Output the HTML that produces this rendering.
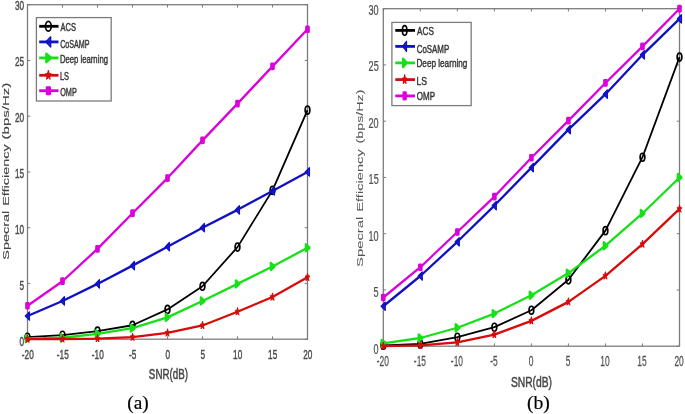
<!DOCTYPE html>
<html><head><meta charset="utf-8"><style>
html,body{margin:0;padding:0;background:#fff;}
svg{display:block;}
.bl{filter:blur(0.45px);}
</style></head><body>
<svg width="685" height="414" viewBox="0 0 685 414">
<rect width="685" height="414" fill="#fff"/>
<g class="bl">
<rect x="27.5" y="4.7" width="280.00" height="334.50" fill="none" stroke="#7c7c7c" stroke-width="1.3"/>
<line x1="27.50" y1="339.2" x2="27.50" y2="336.40" stroke="#7c7c7c" stroke-width="1"/>
<line x1="27.50" y1="4.7" x2="27.50" y2="7.50" stroke="#7c7c7c" stroke-width="1"/>
<text transform="translate(22.18,358.60) scale(0.6100,1)" x="-0.61" y="0" font-family='"Liberation Sans", sans-serif' font-size="13.5" fill="#4a4a4a" stroke="#4a4a4a" stroke-width="0.45">-20</text>
<line x1="62.50" y1="339.2" x2="62.50" y2="336.40" stroke="#7c7c7c" stroke-width="1"/>
<line x1="62.50" y1="4.7" x2="62.50" y2="7.50" stroke="#7c7c7c" stroke-width="1"/>
<text transform="translate(57.20,358.60) scale(0.6100,1)" x="-0.61" y="0" font-family='"Liberation Sans", sans-serif' font-size="13.5" fill="#4a4a4a" stroke="#4a4a4a" stroke-width="0.45">-15</text>
<line x1="97.50" y1="339.2" x2="97.50" y2="336.40" stroke="#7c7c7c" stroke-width="1"/>
<line x1="97.50" y1="4.7" x2="97.50" y2="7.50" stroke="#7c7c7c" stroke-width="1"/>
<text transform="translate(92.18,358.60) scale(0.6100,1)" x="-0.61" y="0" font-family='"Liberation Sans", sans-serif' font-size="13.5" fill="#4a4a4a" stroke="#4a4a4a" stroke-width="0.45">-10</text>
<line x1="132.50" y1="339.2" x2="132.50" y2="336.40" stroke="#7c7c7c" stroke-width="1"/>
<line x1="132.50" y1="4.7" x2="132.50" y2="7.50" stroke="#7c7c7c" stroke-width="1"/>
<text transform="translate(129.49,358.60) scale(0.6100,1)" x="-0.61" y="0" font-family='"Liberation Sans", sans-serif' font-size="13.5" fill="#4a4a4a" stroke="#4a4a4a" stroke-width="0.45">-5</text>
<line x1="167.50" y1="339.2" x2="167.50" y2="336.40" stroke="#7c7c7c" stroke-width="1"/>
<line x1="167.50" y1="4.7" x2="167.50" y2="7.50" stroke="#7c7c7c" stroke-width="1"/>
<text transform="translate(165.82,358.60) scale(0.6100,1)" x="-0.54" y="0" font-family='"Liberation Sans", sans-serif' font-size="13.5" fill="#4a4a4a" stroke="#4a4a4a" stroke-width="0.45">0</text>
<line x1="202.50" y1="339.2" x2="202.50" y2="336.40" stroke="#7c7c7c" stroke-width="1"/>
<line x1="202.50" y1="4.7" x2="202.50" y2="7.50" stroke="#7c7c7c" stroke-width="1"/>
<text transform="translate(200.84,358.60) scale(0.6100,1)" x="-0.54" y="0" font-family='"Liberation Sans", sans-serif' font-size="13.5" fill="#4a4a4a" stroke="#4a4a4a" stroke-width="0.45">5</text>
<line x1="237.50" y1="339.2" x2="237.50" y2="336.40" stroke="#7c7c7c" stroke-width="1"/>
<line x1="237.50" y1="4.7" x2="237.50" y2="7.50" stroke="#7c7c7c" stroke-width="1"/>
<text transform="translate(233.68,358.60) scale(0.6100,1)" x="-1.01" y="0" font-family='"Liberation Sans", sans-serif' font-size="13.5" fill="#4a4a4a" stroke="#4a4a4a" stroke-width="0.45">10</text>
<line x1="272.50" y1="339.2" x2="272.50" y2="336.40" stroke="#7c7c7c" stroke-width="1"/>
<line x1="272.50" y1="4.7" x2="272.50" y2="7.50" stroke="#7c7c7c" stroke-width="1"/>
<text transform="translate(268.70,358.60) scale(0.6100,1)" x="-1.01" y="0" font-family='"Liberation Sans", sans-serif' font-size="13.5" fill="#4a4a4a" stroke="#4a4a4a" stroke-width="0.45">15</text>
<line x1="307.50" y1="339.2" x2="307.50" y2="336.40" stroke="#7c7c7c" stroke-width="1"/>
<line x1="307.50" y1="4.7" x2="307.50" y2="7.50" stroke="#7c7c7c" stroke-width="1"/>
<text transform="translate(303.58,358.60) scale(0.6100,1)" x="-0.68" y="0" font-family='"Liberation Sans", sans-serif' font-size="13.5" fill="#4a4a4a" stroke="#4a4a4a" stroke-width="0.45">20</text>
<line x1="27.5" y1="339.20" x2="30.3" y2="339.20" stroke="#7c7c7c" stroke-width="1"/>
<line x1="307.5" y1="339.20" x2="304.7" y2="339.20" stroke="#7c7c7c" stroke-width="1"/>
<text transform="translate(19.85,346.33) scale(0.6100,1)" x="-0.54" y="0" font-family='"Liberation Sans", sans-serif' font-size="13.5" fill="#4a4a4a" stroke="#4a4a4a" stroke-width="0.45">0</text>
<line x1="27.5" y1="283.45" x2="30.3" y2="283.45" stroke="#7c7c7c" stroke-width="1"/>
<line x1="307.5" y1="283.45" x2="304.7" y2="283.45" stroke="#7c7c7c" stroke-width="1"/>
<text transform="translate(19.89,290.35) scale(0.6100,1)" x="-0.54" y="0" font-family='"Liberation Sans", sans-serif' font-size="13.5" fill="#4a4a4a" stroke="#4a4a4a" stroke-width="0.45">5</text>
<line x1="27.5" y1="227.70" x2="30.3" y2="227.70" stroke="#7c7c7c" stroke-width="1"/>
<line x1="307.5" y1="227.70" x2="304.7" y2="227.70" stroke="#7c7c7c" stroke-width="1"/>
<text transform="translate(15.57,234.37) scale(0.6100,1)" x="-1.01" y="0" font-family='"Liberation Sans", sans-serif' font-size="13.5" fill="#4a4a4a" stroke="#4a4a4a" stroke-width="0.45">10</text>
<line x1="27.5" y1="171.95" x2="30.3" y2="171.95" stroke="#7c7c7c" stroke-width="1"/>
<line x1="307.5" y1="171.95" x2="304.7" y2="171.95" stroke="#7c7c7c" stroke-width="1"/>
<text transform="translate(15.61,178.38) scale(0.6100,1)" x="-1.01" y="0" font-family='"Liberation Sans", sans-serif' font-size="13.5" fill="#4a4a4a" stroke="#4a4a4a" stroke-width="0.45">15</text>
<line x1="27.5" y1="116.20" x2="30.3" y2="116.20" stroke="#7c7c7c" stroke-width="1"/>
<line x1="307.5" y1="116.20" x2="304.7" y2="116.20" stroke="#7c7c7c" stroke-width="1"/>
<text transform="translate(15.36,122.40) scale(0.6100,1)" x="-0.68" y="0" font-family='"Liberation Sans", sans-serif' font-size="13.5" fill="#4a4a4a" stroke="#4a4a4a" stroke-width="0.45">20</text>
<line x1="27.5" y1="60.45" x2="30.3" y2="60.45" stroke="#7c7c7c" stroke-width="1"/>
<line x1="307.5" y1="60.45" x2="304.7" y2="60.45" stroke="#7c7c7c" stroke-width="1"/>
<text transform="translate(15.40,66.42) scale(0.6100,1)" x="-0.68" y="0" font-family='"Liberation Sans", sans-serif' font-size="13.5" fill="#4a4a4a" stroke="#4a4a4a" stroke-width="0.45">25</text>
<line x1="27.5" y1="4.70" x2="30.3" y2="4.70" stroke="#7c7c7c" stroke-width="1"/>
<line x1="307.5" y1="4.70" x2="304.7" y2="4.70" stroke="#7c7c7c" stroke-width="1"/>
<text transform="translate(15.28,10.43) scale(0.6100,1)" x="-0.54" y="0" font-family='"Liberation Sans", sans-serif' font-size="13.5" fill="#4a4a4a" stroke="#4a4a4a" stroke-width="0.45">30</text>
<polyline points="27.50,337.19 62.50,335.19 97.50,331.17 132.50,325.26 167.50,309.43 202.50,286.24 237.50,247.10 272.50,190.35 307.50,110.18" fill="none" stroke="#000000" stroke-width="1.8" stroke-linejoin="round"/>
<ellipse cx="27.50" cy="337.19" rx="2.36" ry="3.96" fill="none" stroke="#000000" stroke-width="1.7"/>
<ellipse cx="62.50" cy="335.19" rx="2.36" ry="3.96" fill="none" stroke="#000000" stroke-width="1.7"/>
<ellipse cx="97.50" cy="331.17" rx="2.36" ry="3.96" fill="none" stroke="#000000" stroke-width="1.7"/>
<ellipse cx="132.50" cy="325.26" rx="2.36" ry="3.96" fill="none" stroke="#000000" stroke-width="1.7"/>
<ellipse cx="167.50" cy="309.43" rx="2.36" ry="3.96" fill="none" stroke="#000000" stroke-width="1.7"/>
<ellipse cx="202.50" cy="286.24" rx="2.36" ry="3.96" fill="none" stroke="#000000" stroke-width="1.7"/>
<ellipse cx="237.50" cy="247.10" rx="2.36" ry="3.96" fill="none" stroke="#000000" stroke-width="1.7"/>
<ellipse cx="272.50" cy="190.35" rx="2.36" ry="3.96" fill="none" stroke="#000000" stroke-width="1.7"/>
<ellipse cx="307.50" cy="110.18" rx="2.36" ry="3.96" fill="none" stroke="#000000" stroke-width="1.7"/>
<polyline points="27.50,316.01 62.50,300.96 97.50,283.90 132.50,265.61 167.50,246.65 202.50,227.70 237.50,209.86 272.50,190.90 307.50,171.95" fill="none" stroke="#1010c4" stroke-width="2.3" stroke-linejoin="round"/>
<polygon points="25.36,316.01 29.41,311.85 29.41,320.17" fill="#1010c4" fill-opacity="0.85" stroke="#1010c4" stroke-width="1.3" stroke-linejoin="round"/>
<polygon points="60.36,300.96 64.41,296.80 64.41,305.11" fill="#1010c4" fill-opacity="0.85" stroke="#1010c4" stroke-width="1.3" stroke-linejoin="round"/>
<polygon points="95.36,283.90 99.41,279.74 99.41,288.05" fill="#1010c4" fill-opacity="0.85" stroke="#1010c4" stroke-width="1.3" stroke-linejoin="round"/>
<polygon points="130.36,265.61 134.41,261.45 134.41,269.77" fill="#1010c4" fill-opacity="0.85" stroke="#1010c4" stroke-width="1.3" stroke-linejoin="round"/>
<polygon points="165.36,246.65 169.41,242.50 169.41,250.81" fill="#1010c4" fill-opacity="0.85" stroke="#1010c4" stroke-width="1.3" stroke-linejoin="round"/>
<polygon points="200.36,227.70 204.41,223.54 204.41,231.86" fill="#1010c4" fill-opacity="0.85" stroke="#1010c4" stroke-width="1.3" stroke-linejoin="round"/>
<polygon points="235.36,209.86 239.41,205.70 239.41,214.02" fill="#1010c4" fill-opacity="0.85" stroke="#1010c4" stroke-width="1.3" stroke-linejoin="round"/>
<polygon points="270.36,190.90 274.41,186.75 274.41,195.06" fill="#1010c4" fill-opacity="0.85" stroke="#1010c4" stroke-width="1.3" stroke-linejoin="round"/>
<polygon points="305.36,171.95 309.41,167.79 309.41,176.11" fill="#1010c4" fill-opacity="0.85" stroke="#1010c4" stroke-width="1.3" stroke-linejoin="round"/>
<polyline points="27.50,338.64 62.50,337.75 97.50,333.85 132.50,328.16 167.50,317.35 202.50,300.96 237.50,283.90 272.50,266.50 307.50,247.77" fill="none" stroke="#18e018" stroke-width="2.3" stroke-linejoin="round"/>
<polygon points="25.81,335.08 29.41,338.25 29.41,339.04 25.81,342.21" fill="#18e018" stroke="#18e018" stroke-width="2.2" stroke-linejoin="round"/>
<polygon points="60.81,334.19 64.41,337.35 64.41,338.15 60.81,341.31" fill="#18e018" stroke="#18e018" stroke-width="2.2" stroke-linejoin="round"/>
<polygon points="95.81,330.28 99.41,333.45 99.41,334.24 95.81,337.41" fill="#18e018" stroke="#18e018" stroke-width="2.2" stroke-linejoin="round"/>
<polygon points="130.81,324.60 134.41,327.77 134.41,328.56 130.81,331.73" fill="#18e018" stroke="#18e018" stroke-width="2.2" stroke-linejoin="round"/>
<polygon points="165.81,313.78 169.41,316.95 169.41,317.74 165.81,320.91" fill="#18e018" stroke="#18e018" stroke-width="2.2" stroke-linejoin="round"/>
<polygon points="200.81,297.39 204.41,300.56 204.41,301.35 200.81,304.52" fill="#18e018" stroke="#18e018" stroke-width="2.2" stroke-linejoin="round"/>
<polygon points="235.81,280.33 239.41,283.50 239.41,284.29 235.81,287.46" fill="#18e018" stroke="#18e018" stroke-width="2.2" stroke-linejoin="round"/>
<polygon points="270.81,262.94 274.41,266.11 274.41,266.90 270.81,270.07" fill="#18e018" stroke="#18e018" stroke-width="2.2" stroke-linejoin="round"/>
<polygon points="305.81,244.21 309.41,247.37 309.41,248.17 305.81,251.33" fill="#18e018" stroke="#18e018" stroke-width="2.2" stroke-linejoin="round"/>
<polyline points="27.50,339.20 62.50,338.98 97.50,338.64 132.50,337.19 167.50,332.96 202.50,325.49 237.50,311.77 272.50,297.05 307.50,277.32" fill="none" stroke="#d80a0a" stroke-width="2.3" stroke-linejoin="round"/>
<polygon points="27.50,335.04 28.15,337.69 29.85,337.92 28.56,339.78 28.95,342.56 27.50,341.07 26.05,342.56 26.44,339.78 25.15,337.92 26.85,337.69" fill="#d80a0a" stroke="#d80a0a" stroke-width="1.0" stroke-linejoin="round"/>
<polygon points="62.50,334.82 63.15,337.46 64.85,337.69 63.56,339.56 63.95,342.34 62.50,340.85 61.05,342.34 61.44,339.56 60.15,337.69 61.85,337.46" fill="#d80a0a" stroke="#d80a0a" stroke-width="1.0" stroke-linejoin="round"/>
<polygon points="97.50,334.48 98.15,337.13 99.85,337.36 98.56,339.22 98.95,342.01 97.50,340.51 96.05,342.01 96.44,339.22 95.15,337.36 96.85,337.13" fill="#d80a0a" stroke="#d80a0a" stroke-width="1.0" stroke-linejoin="round"/>
<polygon points="132.50,333.03 133.15,335.68 134.85,335.91 133.56,337.77 133.95,340.56 132.50,339.06 131.05,340.56 131.44,337.77 130.15,335.91 131.85,335.68" fill="#d80a0a" stroke="#d80a0a" stroke-width="1.0" stroke-linejoin="round"/>
<polygon points="167.50,328.80 168.15,331.44 169.85,331.67 168.56,333.53 168.95,336.32 167.50,334.83 166.05,336.32 166.44,333.53 165.15,331.67 166.85,331.44" fill="#d80a0a" stroke="#d80a0a" stroke-width="1.0" stroke-linejoin="round"/>
<polygon points="202.50,321.33 203.15,323.97 204.85,324.20 203.56,326.06 203.95,328.85 202.50,327.36 201.05,328.85 201.44,326.06 200.15,324.20 201.85,323.97" fill="#d80a0a" stroke="#d80a0a" stroke-width="1.0" stroke-linejoin="round"/>
<polygon points="237.50,307.61 238.15,310.26 239.85,310.49 238.56,312.35 238.95,315.13 237.50,313.64 236.05,315.13 236.44,312.35 235.15,310.49 236.85,310.26" fill="#d80a0a" stroke="#d80a0a" stroke-width="1.0" stroke-linejoin="round"/>
<polygon points="272.50,292.89 273.15,295.54 274.85,295.77 273.56,297.63 273.95,300.42 272.50,298.92 271.05,300.42 271.44,297.63 270.15,295.77 271.85,295.54" fill="#d80a0a" stroke="#d80a0a" stroke-width="1.0" stroke-linejoin="round"/>
<polygon points="307.50,273.16 308.15,275.80 309.85,276.03 308.56,277.90 308.95,280.68 307.50,279.19 306.05,280.68 306.44,277.90 305.15,276.03 306.85,275.80" fill="#d80a0a" stroke="#d80a0a" stroke-width="1.0" stroke-linejoin="round"/>
<polyline points="27.50,305.75 62.50,281.22 97.50,248.88 132.50,213.20 167.50,178.08 202.50,140.40 237.50,103.60 272.50,66.36 307.50,29.23" fill="none" stroke="#dc00dc" stroke-width="2.3" stroke-linejoin="round"/>
<rect x="25.81" y="302.50" width="3.38" height="6.49" rx="0.8" fill="#dc00dc" stroke="#dc00dc" stroke-width="1.2"/>
<rect x="60.81" y="277.97" width="3.38" height="6.49" rx="0.8" fill="#dc00dc" stroke="#dc00dc" stroke-width="1.2"/>
<rect x="95.81" y="245.64" width="3.38" height="6.49" rx="0.8" fill="#dc00dc" stroke="#dc00dc" stroke-width="1.2"/>
<rect x="130.81" y="209.96" width="3.38" height="6.49" rx="0.8" fill="#dc00dc" stroke="#dc00dc" stroke-width="1.2"/>
<rect x="165.81" y="174.84" width="3.38" height="6.49" rx="0.8" fill="#dc00dc" stroke="#dc00dc" stroke-width="1.2"/>
<rect x="200.81" y="137.15" width="3.38" height="6.49" rx="0.8" fill="#dc00dc" stroke="#dc00dc" stroke-width="1.2"/>
<rect x="235.81" y="100.35" width="3.38" height="6.49" rx="0.8" fill="#dc00dc" stroke="#dc00dc" stroke-width="1.2"/>
<rect x="270.81" y="63.11" width="3.38" height="6.49" rx="0.8" fill="#dc00dc" stroke="#dc00dc" stroke-width="1.2"/>
<rect x="305.81" y="25.98" width="3.38" height="6.49" rx="0.8" fill="#dc00dc" stroke="#dc00dc" stroke-width="1.2"/>
<rect x="36.4" y="17.6" width="74.80" height="83.40" fill="#ffffff" stroke="#7c7c7c" stroke-width="1.3"/>
<line x1="39.2" y1="26.3" x2="58.5" y2="26.3" stroke="#000000" stroke-width="2.8"/>
<ellipse cx="48.35" cy="26.30" rx="2.89" ry="4.84" fill="none" stroke="#000000" stroke-width="1.7"/>
<text transform="translate(60.50,31.40) scale(0.6648,1)" x="-0.00" y="0" font-family='"Liberation Sans", sans-serif' font-size="11.3" fill="#383838" stroke="#383838" stroke-width="0.45">ACS</text>
<line x1="39.2" y1="41.9" x2="58.5" y2="41.9" stroke="#1010c4" stroke-width="2.8"/>
<polygon points="45.74,41.90 50.69,36.82 50.69,46.98" fill="#1010c4" fill-opacity="0.85" stroke="#1010c4" stroke-width="1.3" stroke-linejoin="round"/>
<text transform="translate(60.50,48.20) scale(0.6334,1)" x="-0.57" y="0" font-family='"Liberation Sans", sans-serif' font-size="11.3" fill="#383838" stroke="#383838" stroke-width="0.45">CoSAMP</text>
<line x1="39.2" y1="57.9" x2="58.5" y2="57.9" stroke="#18e018" stroke-width="2.8"/>
<polygon points="46.29,53.54 50.69,57.42 50.69,58.38 46.29,62.26" fill="#18e018" stroke="#18e018" stroke-width="2.2" stroke-linejoin="round"/>
<text transform="translate(60.50,63.30) scale(0.6841,1)" x="-0.90" y="0" font-family='"Liberation Sans", sans-serif' font-size="11.3" fill="#383838" stroke="#383838" stroke-width="0.45">Deep learning</text>
<line x1="39.2" y1="75.3" x2="58.5" y2="75.3" stroke="#c41414" stroke-width="2.8"/>
<polygon points="48.35,70.22 49.15,73.45 51.23,73.73 49.64,76.01 50.13,79.41 48.35,77.59 46.57,79.41 47.06,76.01 45.47,73.73 47.55,73.45" fill="#d80a0a" stroke="#d80a0a" stroke-width="1.0" stroke-linejoin="round"/>
<text transform="translate(60.50,80.20) scale(0.6546,1)" x="-0.90" y="0" font-family='"Liberation Sans", sans-serif' font-size="11.3" fill="#383838" stroke="#383838" stroke-width="0.45">LS</text>
<line x1="39.2" y1="90.7" x2="58.5" y2="90.7" stroke="#dc00dc" stroke-width="2.8"/>
<rect x="46.29" y="86.73" width="4.12" height="7.94" rx="0.8" fill="#dc00dc" stroke="#dc00dc" stroke-width="1.2"/>
<text transform="translate(60.50,95.70) scale(0.6454,1)" x="-0.51" y="0" font-family='"Liberation Sans", sans-serif' font-size="11.3" fill="#383838" stroke="#383838" stroke-width="0.45">OMP</text>
<text transform="translate(8.60,138.50) rotate(-90) scale(1.0288,0.57)" x="-0.88" y="0" font-family='"Liberation Sans", sans-serif' font-size="14.6" fill="#444" stroke="#444" stroke-width="0.2">(bps/Hz)</text>
<text transform="translate(8.60,204.60) rotate(-90) scale(0.9881,0.57)" x="-1.17" y="0" font-family='"Liberation Sans", sans-serif' font-size="14.6" fill="#444" stroke="#444" stroke-width="0.2">Efficiency</text>
<text transform="translate(8.60,259.00) rotate(-90) scale(0.9898,0.57)" x="-0.66" y="0" font-family='"Liberation Sans", sans-serif' font-size="14.6" fill="#444" stroke="#444" stroke-width="0.2">Specral</text>
<text transform="translate(149.30,378.80) scale(0.7088,1)" x="-0.62" y="0" font-family='"Liberation Sans", sans-serif' font-size="13.8" fill="#454545" stroke="#454545" stroke-width="0.45">SNR(dB)</text>
<text transform="translate(128.20,409.10) scale(0.9854,1)" x="-0.88" y="0" font-family='"Liberation Serif", serif' font-size="19.6" fill="#000" stroke="#000" stroke-width="0.2">(a)</text>
<rect x="383.3" y="8.7" width="296.20" height="337.50" fill="none" stroke="#7c7c7c" stroke-width="1.3"/>
<line x1="383.30" y1="346.2" x2="383.30" y2="343.40" stroke="#7c7c7c" stroke-width="1"/>
<line x1="383.30" y1="8.7" x2="383.30" y2="11.50" stroke="#7c7c7c" stroke-width="1"/>
<text transform="translate(377.17,365.80) scale(0.6000,1)" x="-0.63" y="0" font-family='"Liberation Sans", sans-serif' font-size="14.0" fill="#505050" stroke="#505050" stroke-width="0.25">-20</text>
<line x1="420.32" y1="346.2" x2="420.32" y2="343.40" stroke="#7c7c7c" stroke-width="1"/>
<line x1="420.32" y1="8.7" x2="420.32" y2="11.50" stroke="#7c7c7c" stroke-width="1"/>
<text transform="translate(414.21,365.80) scale(0.6000,1)" x="-0.63" y="0" font-family='"Liberation Sans", sans-serif' font-size="14.0" fill="#505050" stroke="#505050" stroke-width="0.25">-15</text>
<line x1="457.35" y1="346.2" x2="457.35" y2="343.40" stroke="#7c7c7c" stroke-width="1"/>
<line x1="457.35" y1="8.7" x2="457.35" y2="11.50" stroke="#7c7c7c" stroke-width="1"/>
<text transform="translate(451.22,365.80) scale(0.6000,1)" x="-0.63" y="0" font-family='"Liberation Sans", sans-serif' font-size="14.0" fill="#505050" stroke="#505050" stroke-width="0.25">-10</text>
<line x1="494.38" y1="346.2" x2="494.38" y2="343.40" stroke="#7c7c7c" stroke-width="1"/>
<line x1="494.38" y1="8.7" x2="494.38" y2="11.50" stroke="#7c7c7c" stroke-width="1"/>
<text transform="translate(490.59,365.80) scale(0.6000,1)" x="-0.63" y="0" font-family='"Liberation Sans", sans-serif' font-size="14.0" fill="#505050" stroke="#505050" stroke-width="0.25">-5</text>
<line x1="531.40" y1="346.2" x2="531.40" y2="343.40" stroke="#7c7c7c" stroke-width="1"/>
<line x1="531.40" y1="8.7" x2="531.40" y2="11.50" stroke="#7c7c7c" stroke-width="1"/>
<text transform="translate(528.98,365.80) scale(0.6000,1)" x="-0.56" y="0" font-family='"Liberation Sans", sans-serif' font-size="14.0" fill="#505050" stroke="#505050" stroke-width="0.25">0</text>
<line x1="568.42" y1="346.2" x2="568.42" y2="343.40" stroke="#7c7c7c" stroke-width="1"/>
<line x1="568.42" y1="8.7" x2="568.42" y2="11.50" stroke="#7c7c7c" stroke-width="1"/>
<text transform="translate(566.03,365.80) scale(0.6000,1)" x="-0.56" y="0" font-family='"Liberation Sans", sans-serif' font-size="14.0" fill="#505050" stroke="#505050" stroke-width="0.25">5</text>
<line x1="605.45" y1="346.2" x2="605.45" y2="343.40" stroke="#7c7c7c" stroke-width="1"/>
<line x1="605.45" y1="8.7" x2="605.45" y2="11.50" stroke="#7c7c7c" stroke-width="1"/>
<text transform="translate(600.85,365.80) scale(0.6000,1)" x="-1.05" y="0" font-family='"Liberation Sans", sans-serif' font-size="14.0" fill="#505050" stroke="#505050" stroke-width="0.25">10</text>
<line x1="642.48" y1="346.2" x2="642.48" y2="343.40" stroke="#7c7c7c" stroke-width="1"/>
<line x1="642.48" y1="8.7" x2="642.48" y2="11.50" stroke="#7c7c7c" stroke-width="1"/>
<text transform="translate(637.90,365.80) scale(0.6000,1)" x="-1.05" y="0" font-family='"Liberation Sans", sans-serif' font-size="14.0" fill="#505050" stroke="#505050" stroke-width="0.25">15</text>
<line x1="679.50" y1="346.2" x2="679.50" y2="343.40" stroke="#7c7c7c" stroke-width="1"/>
<line x1="679.50" y1="8.7" x2="679.50" y2="11.50" stroke="#7c7c7c" stroke-width="1"/>
<text transform="translate(674.80,365.80) scale(0.6000,1)" x="-0.70" y="0" font-family='"Liberation Sans", sans-serif' font-size="14.0" fill="#505050" stroke="#505050" stroke-width="0.25">20</text>
<line x1="383.3" y1="346.20" x2="386.1" y2="346.20" stroke="#7c7c7c" stroke-width="1"/>
<line x1="679.5" y1="346.20" x2="676.7" y2="346.20" stroke="#7c7c7c" stroke-width="1"/>
<text transform="translate(373.93,353.51) scale(0.6500,1)" x="-0.56" y="0" font-family='"Liberation Sans", sans-serif' font-size="14.0" fill="#505050" stroke="#505050" stroke-width="0.25">0</text>
<line x1="383.3" y1="289.95" x2="386.1" y2="289.95" stroke="#7c7c7c" stroke-width="1"/>
<line x1="679.5" y1="289.95" x2="676.7" y2="289.95" stroke="#7c7c7c" stroke-width="1"/>
<text transform="translate(373.98,297.03) scale(0.6500,1)" x="-0.56" y="0" font-family='"Liberation Sans", sans-serif' font-size="14.0" fill="#505050" stroke="#505050" stroke-width="0.25">5</text>
<line x1="383.3" y1="233.70" x2="386.1" y2="233.70" stroke="#7c7c7c" stroke-width="1"/>
<line x1="679.5" y1="233.70" x2="676.7" y2="233.70" stroke="#7c7c7c" stroke-width="1"/>
<text transform="translate(369.20,240.55) scale(0.6500,1)" x="-1.05" y="0" font-family='"Liberation Sans", sans-serif' font-size="14.0" fill="#505050" stroke="#505050" stroke-width="0.25">10</text>
<line x1="383.3" y1="177.45" x2="386.1" y2="177.45" stroke="#7c7c7c" stroke-width="1"/>
<line x1="679.5" y1="177.45" x2="676.7" y2="177.45" stroke="#7c7c7c" stroke-width="1"/>
<text transform="translate(369.25,184.06) scale(0.6500,1)" x="-1.05" y="0" font-family='"Liberation Sans", sans-serif' font-size="14.0" fill="#505050" stroke="#505050" stroke-width="0.25">15</text>
<line x1="383.3" y1="121.20" x2="386.1" y2="121.20" stroke="#7c7c7c" stroke-width="1"/>
<line x1="679.5" y1="121.20" x2="676.7" y2="121.20" stroke="#7c7c7c" stroke-width="1"/>
<text transform="translate(368.97,127.58) scale(0.6500,1)" x="-0.70" y="0" font-family='"Liberation Sans", sans-serif' font-size="14.0" fill="#505050" stroke="#505050" stroke-width="0.25">20</text>
<line x1="383.3" y1="64.95" x2="386.1" y2="64.95" stroke="#7c7c7c" stroke-width="1"/>
<line x1="679.5" y1="64.95" x2="676.7" y2="64.95" stroke="#7c7c7c" stroke-width="1"/>
<text transform="translate(369.02,71.10) scale(0.6500,1)" x="-0.70" y="0" font-family='"Liberation Sans", sans-serif' font-size="14.0" fill="#505050" stroke="#505050" stroke-width="0.25">25</text>
<line x1="383.3" y1="8.70" x2="386.1" y2="8.70" stroke="#7c7c7c" stroke-width="1"/>
<line x1="679.5" y1="8.70" x2="676.7" y2="8.70" stroke="#7c7c7c" stroke-width="1"/>
<text transform="translate(368.88,14.61) scale(0.6500,1)" x="-0.56" y="0" font-family='"Liberation Sans", sans-serif' font-size="14.0" fill="#505050" stroke="#505050" stroke-width="0.25">30</text>
<polyline points="383.30,345.30 420.32,343.95 457.35,337.20 494.38,327.19 531.40,310.20 568.42,279.82 605.45,230.66 642.48,157.20 679.50,57.07" fill="none" stroke="#000000" stroke-width="1.8" stroke-linejoin="round"/>
<ellipse cx="383.30" cy="345.30" rx="2.36" ry="3.96" fill="none" stroke="#000000" stroke-width="1.7"/>
<ellipse cx="420.32" cy="343.95" rx="2.36" ry="3.96" fill="none" stroke="#000000" stroke-width="1.7"/>
<ellipse cx="457.35" cy="337.20" rx="2.36" ry="3.96" fill="none" stroke="#000000" stroke-width="1.7"/>
<ellipse cx="494.38" cy="327.19" rx="2.36" ry="3.96" fill="none" stroke="#000000" stroke-width="1.7"/>
<ellipse cx="531.40" cy="310.20" rx="2.36" ry="3.96" fill="none" stroke="#000000" stroke-width="1.7"/>
<ellipse cx="568.42" cy="279.82" rx="2.36" ry="3.96" fill="none" stroke="#000000" stroke-width="1.7"/>
<ellipse cx="605.45" cy="230.66" rx="2.36" ry="3.96" fill="none" stroke="#000000" stroke-width="1.7"/>
<ellipse cx="642.48" cy="157.20" rx="2.36" ry="3.96" fill="none" stroke="#000000" stroke-width="1.7"/>
<ellipse cx="679.50" cy="57.07" rx="2.36" ry="3.96" fill="none" stroke="#000000" stroke-width="1.7"/>
<polyline points="383.30,306.26 420.32,276.00 457.35,241.80 494.38,205.57 531.40,167.66 568.42,129.64 605.45,94.20 642.48,54.82 679.50,18.82" fill="none" stroke="#1010c4" stroke-width="2.3" stroke-linejoin="round"/>
<polygon points="381.16,306.26 385.21,302.10 385.21,310.42" fill="#1010c4" fill-opacity="0.85" stroke="#1010c4" stroke-width="1.3" stroke-linejoin="round"/>
<polygon points="418.19,276.00 422.24,271.84 422.24,280.16" fill="#1010c4" fill-opacity="0.85" stroke="#1010c4" stroke-width="1.3" stroke-linejoin="round"/>
<polygon points="455.21,241.80 459.26,237.64 459.26,245.96" fill="#1010c4" fill-opacity="0.85" stroke="#1010c4" stroke-width="1.3" stroke-linejoin="round"/>
<polygon points="492.24,205.57 496.29,201.42 496.29,209.73" fill="#1010c4" fill-opacity="0.85" stroke="#1010c4" stroke-width="1.3" stroke-linejoin="round"/>
<polygon points="529.26,167.66 533.31,163.50 533.31,171.82" fill="#1010c4" fill-opacity="0.85" stroke="#1010c4" stroke-width="1.3" stroke-linejoin="round"/>
<polygon points="566.29,129.64 570.34,125.48 570.34,133.80" fill="#1010c4" fill-opacity="0.85" stroke="#1010c4" stroke-width="1.3" stroke-linejoin="round"/>
<polygon points="603.31,94.20 607.36,90.04 607.36,98.36" fill="#1010c4" fill-opacity="0.85" stroke="#1010c4" stroke-width="1.3" stroke-linejoin="round"/>
<polygon points="640.34,54.82 644.39,50.67 644.39,58.98" fill="#1010c4" fill-opacity="0.85" stroke="#1010c4" stroke-width="1.3" stroke-linejoin="round"/>
<polygon points="677.36,18.82 681.41,14.67 681.41,22.98" fill="#1010c4" fill-opacity="0.85" stroke="#1010c4" stroke-width="1.3" stroke-linejoin="round"/>
<polyline points="383.30,343.39 420.32,337.99 457.35,327.75 494.38,313.57 531.40,295.24 568.42,273.07 605.45,245.74 642.48,213.45 679.50,177.45" fill="none" stroke="#18e018" stroke-width="2.3" stroke-linejoin="round"/>
<polygon points="381.61,339.82 385.21,342.99 385.21,343.78 381.61,346.95" fill="#18e018" stroke="#18e018" stroke-width="2.2" stroke-linejoin="round"/>
<polygon points="418.64,334.42 422.24,337.59 422.24,338.38 418.64,341.55" fill="#18e018" stroke="#18e018" stroke-width="2.2" stroke-linejoin="round"/>
<polygon points="455.66,324.19 459.26,327.35 459.26,328.15 455.66,331.31" fill="#18e018" stroke="#18e018" stroke-width="2.2" stroke-linejoin="round"/>
<polygon points="492.69,310.01 496.29,313.18 496.29,313.97 492.69,317.14" fill="#18e018" stroke="#18e018" stroke-width="2.2" stroke-linejoin="round"/>
<polygon points="529.71,291.67 533.31,294.84 533.31,295.63 529.71,298.80" fill="#18e018" stroke="#18e018" stroke-width="2.2" stroke-linejoin="round"/>
<polygon points="566.74,269.51 570.34,272.68 570.34,273.47 566.74,276.64" fill="#18e018" stroke="#18e018" stroke-width="2.2" stroke-linejoin="round"/>
<polygon points="603.76,242.17 607.36,245.34 607.36,246.13 603.76,249.30" fill="#18e018" stroke="#18e018" stroke-width="2.2" stroke-linejoin="round"/>
<polygon points="640.79,209.89 644.39,213.05 644.39,213.85 640.79,217.01" fill="#18e018" stroke="#18e018" stroke-width="2.2" stroke-linejoin="round"/>
<polygon points="677.81,173.89 681.41,177.05 681.41,177.85 677.81,181.01" fill="#18e018" stroke="#18e018" stroke-width="2.2" stroke-linejoin="round"/>
<polyline points="383.30,346.20 420.32,345.30 457.35,342.38 494.38,334.61 531.40,320.89 568.42,301.88 605.45,275.89 642.48,244.16 679.50,208.95" fill="none" stroke="#d80a0a" stroke-width="2.3" stroke-linejoin="round"/>
<polygon points="383.30,342.04 383.95,344.69 385.65,344.92 384.36,346.78 384.75,349.56 383.30,348.07 381.85,349.56 382.24,346.78 380.95,344.92 382.65,344.69" fill="#d80a0a" stroke="#d80a0a" stroke-width="1.0" stroke-linejoin="round"/>
<polygon points="420.32,341.14 420.98,343.79 422.68,344.02 421.38,345.88 421.78,348.66 420.32,347.17 418.87,348.66 419.27,345.88 417.97,344.02 419.67,343.79" fill="#d80a0a" stroke="#d80a0a" stroke-width="1.0" stroke-linejoin="round"/>
<polygon points="457.35,338.22 458.00,340.86 459.70,341.09 458.41,342.95 458.80,345.74 457.35,344.25 455.90,345.74 456.29,342.95 455.00,341.09 456.70,340.86" fill="#d80a0a" stroke="#d80a0a" stroke-width="1.0" stroke-linejoin="round"/>
<polygon points="494.38,330.45 495.03,333.10 496.73,333.33 495.43,335.19 495.83,337.98 494.38,336.48 492.92,337.98 493.32,335.19 492.02,333.33 493.72,333.10" fill="#d80a0a" stroke="#d80a0a" stroke-width="1.0" stroke-linejoin="round"/>
<polygon points="531.40,316.73 532.05,319.37 533.75,319.60 532.46,321.47 532.85,324.25 531.40,322.76 529.95,324.25 530.34,321.47 529.05,319.60 530.75,319.37" fill="#d80a0a" stroke="#d80a0a" stroke-width="1.0" stroke-linejoin="round"/>
<polygon points="568.42,297.72 569.08,300.36 570.78,300.59 569.48,302.45 569.88,305.24 568.42,303.75 566.97,305.24 567.37,302.45 566.07,300.59 567.77,300.36" fill="#d80a0a" stroke="#d80a0a" stroke-width="1.0" stroke-linejoin="round"/>
<polygon points="605.45,271.73 606.10,274.37 607.80,274.60 606.51,276.47 606.90,279.25 605.45,277.76 604.00,279.25 604.39,276.47 603.10,274.60 604.80,274.37" fill="#d80a0a" stroke="#d80a0a" stroke-width="1.0" stroke-linejoin="round"/>
<polygon points="642.48,240.00 643.13,242.65 644.83,242.88 643.53,244.74 643.93,247.53 642.48,246.03 641.02,247.53 641.42,244.74 640.12,242.88 641.82,242.65" fill="#d80a0a" stroke="#d80a0a" stroke-width="1.0" stroke-linejoin="round"/>
<polygon points="679.50,204.79 680.15,207.44 681.85,207.67 680.56,209.53 680.95,212.31 679.50,210.82 678.05,212.31 678.44,209.53 677.15,207.67 678.85,207.44" fill="#d80a0a" stroke="#d80a0a" stroke-width="1.0" stroke-linejoin="round"/>
<polyline points="383.30,297.49 420.32,267.23 457.35,232.01 494.38,196.57 531.40,157.76 568.42,120.64 605.45,82.95 642.48,46.39 679.50,8.70" fill="none" stroke="#dc00dc" stroke-width="2.3" stroke-linejoin="round"/>
<rect x="381.61" y="294.24" width="3.38" height="6.49" rx="0.8" fill="#dc00dc" stroke="#dc00dc" stroke-width="1.2"/>
<rect x="418.64" y="263.98" width="3.38" height="6.49" rx="0.8" fill="#dc00dc" stroke="#dc00dc" stroke-width="1.2"/>
<rect x="455.66" y="228.77" width="3.38" height="6.49" rx="0.8" fill="#dc00dc" stroke="#dc00dc" stroke-width="1.2"/>
<rect x="492.69" y="193.33" width="3.38" height="6.49" rx="0.8" fill="#dc00dc" stroke="#dc00dc" stroke-width="1.2"/>
<rect x="529.71" y="154.52" width="3.38" height="6.49" rx="0.8" fill="#dc00dc" stroke="#dc00dc" stroke-width="1.2"/>
<rect x="566.74" y="117.39" width="3.38" height="6.49" rx="0.8" fill="#dc00dc" stroke="#dc00dc" stroke-width="1.2"/>
<rect x="603.76" y="79.70" width="3.38" height="6.49" rx="0.8" fill="#dc00dc" stroke="#dc00dc" stroke-width="1.2"/>
<rect x="640.79" y="43.14" width="3.38" height="6.49" rx="0.8" fill="#dc00dc" stroke="#dc00dc" stroke-width="1.2"/>
<rect x="677.81" y="5.45" width="3.38" height="6.49" rx="0.8" fill="#dc00dc" stroke="#dc00dc" stroke-width="1.2"/>
<rect x="391.9" y="22.4" width="79.30" height="83.20" fill="#ffffff" stroke="#7c7c7c" stroke-width="1.3"/>
<line x1="395.3" y1="30.4" x2="415.0" y2="30.4" stroke="#000000" stroke-width="2.8"/>
<ellipse cx="404.65" cy="30.40" rx="2.25" ry="4.84" fill="none" stroke="#000000" stroke-width="1.7"/>
<text transform="translate(417.10,35.40) scale(0.7265,1)" x="-0.00" y="0" font-family='"Liberation Sans", sans-serif' font-size="11.3" fill="#383838" stroke="#383838" stroke-width="0.45">ACS</text>
<line x1="395.3" y1="46.4" x2="415.0" y2="46.4" stroke="#1010c4" stroke-width="2.8"/>
<polygon points="402.61,46.40 406.47,41.32 406.47,51.48" fill="#1010c4" fill-opacity="0.85" stroke="#1010c4" stroke-width="1.3" stroke-linejoin="round"/>
<text transform="translate(417.10,52.90) scale(0.6996,1)" x="-0.57" y="0" font-family='"Liberation Sans", sans-serif' font-size="11.3" fill="#383838" stroke="#383838" stroke-width="0.45">CoSAMP</text>
<line x1="395.3" y1="62.9" x2="415.0" y2="62.9" stroke="#18e018" stroke-width="2.8"/>
<polygon points="403.04,58.54 406.47,62.42 406.47,63.38 403.04,67.26" fill="#18e018" stroke="#18e018" stroke-width="2.2" stroke-linejoin="round"/>
<text transform="translate(417.10,67.40) scale(0.7234,1)" x="-0.90" y="0" font-family='"Liberation Sans", sans-serif' font-size="11.3" fill="#383838" stroke="#383838" stroke-width="0.45">Deep learning</text>
<line x1="395.3" y1="79.6" x2="415.0" y2="79.6" stroke="#c41414" stroke-width="2.8"/>
<polygon points="404.65,74.52 405.27,77.75 406.89,78.03 405.66,80.31 406.04,83.71 404.65,81.89 403.26,83.71 403.64,80.31 402.41,78.03 404.03,77.75" fill="#d80a0a" stroke="#d80a0a" stroke-width="1.0" stroke-linejoin="round"/>
<text transform="translate(417.10,85.30) scale(0.7678,1)" x="-0.90" y="0" font-family='"Liberation Sans", sans-serif' font-size="11.3" fill="#383838" stroke="#383838" stroke-width="0.45">LS</text>
<line x1="395.3" y1="95.9" x2="415.0" y2="95.9" stroke="#dc00dc" stroke-width="2.8"/>
<rect x="403.04" y="91.93" width="3.22" height="7.94" rx="0.8" fill="#dc00dc" stroke="#dc00dc" stroke-width="1.2"/>
<text transform="translate(417.10,100.40) scale(0.7104,1)" x="-0.51" y="0" font-family='"Liberation Sans", sans-serif' font-size="11.3" fill="#383838" stroke="#383838" stroke-width="0.45">OMP</text>
<text transform="translate(363.40,142.60) rotate(-90) scale(0.9782,0.61)" x="-0.88" y="0" font-family='"Liberation Sans", sans-serif' font-size="14.6" fill="#555" stroke="#555" stroke-width="0.05">(bps/Hz)</text>
<text transform="translate(363.40,210.60) rotate(-90) scale(1.0061,0.61)" x="-1.17" y="0" font-family='"Liberation Sans", sans-serif' font-size="14.6" fill="#555" stroke="#555" stroke-width="0.05">Efficiency</text>
<text transform="translate(363.40,266.30) rotate(-90) scale(1.0170,0.61)" x="-0.66" y="0" font-family='"Liberation Sans", sans-serif' font-size="14.6" fill="#555" stroke="#555" stroke-width="0.05">Specral</text>
<text transform="translate(511.40,386.90) scale(0.7442,1)" x="-0.62" y="0" font-family='"Liberation Sans", sans-serif' font-size="13.8" fill="#454545" stroke="#454545" stroke-width="0.45">SNR(dB)</text>
<text transform="translate(527.80,409.40) scale(1.0062,1)" x="-0.88" y="0" font-family='"Liberation Serif", serif' font-size="19.6" fill="#000" stroke="#000" stroke-width="0.2">(b)</text>
</g>
</svg>
</body></html>
